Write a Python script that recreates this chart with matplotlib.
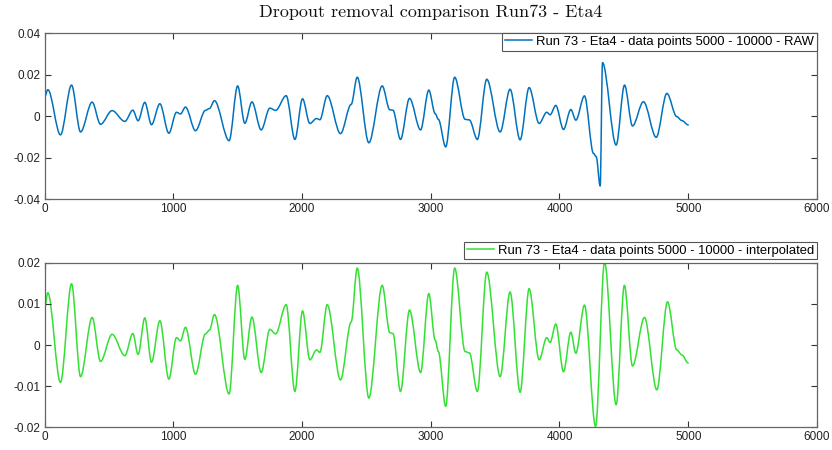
import matplotlib
matplotlib.use("Agg")
import matplotlib.pyplot as plt
from matplotlib.path import Path
from matplotlib.patches import PathPatch
from matplotlib.lines import Line2D

# ---- data (turning points of each trace) ----
# shared part of both traces (sample index, value)
common_x = [0, 26, 124, 210, 280, 370, 435, 525, 624, 686, 727, 779, 831, 896, 966,
            1025, 1056, 1095, 1173, 1250, 1281, 1320, 1434, 1500, 1556, 1611, 1683,
            1750, 1795, 1877, 1945, 2004, 2061, 2113, 2139, 2196, 2299, 2382, 2429,
            2519, 2623, 2682, 2706, 2765, 2835, 2921, 2985, 3034, 3059, 3116, 3186,
            3267, 3300, 3362, 3435, 3539, 3616, 3694, 3764, 3842, 3901, 3927, 3971,
            4031, 4088, 4127, 4194]
common_y = [0.0090, 0.0127, -0.0091, 0.0149, -0.0077, 0.0067, -0.0040, 0.0026, -0.0026,
            0.0028, -0.0023, 0.0066, -0.0042, 0.0059, -0.0083, 0.0018, 0.0010, 0.0043,
            -0.0071, 0.0027, 0.0036, 0.0074, -0.0119, 0.0145, -0.0035, 0.0068, -0.0067,
            0.0038, 0.0027, 0.0098, -0.0113, 0.0083, -0.0036, -0.0012, -0.0018, 0.0098,
            -0.0085, 0.0056, 0.0187, -0.0129, 0.0145, 0.0030, 0.0028, -0.0113, 0.0085,
            -0.0067, 0.0125, 0.0012, -0.0016, -0.0149, 0.0187, -0.0016, -0.0019, -0.0113,
            0.0177, -0.0077, 0.0129, -0.0115, 0.0137, -0.0036, 0.0018, 0.0006, 0.0051,
            -0.0065, 0.0031, -0.0020, 0.0097]

# raw trace after 4194 (contains the dropout)
raw_tail_x = [4264, 4285, 4316, 4334, 4440, 4505, 4567, 4652, 4751, 4834, 4911, 4950, 5000]
raw_tail_y = [-0.0180, -0.0196, -0.0337, 0.0257, -0.0140, 0.0149, -0.0048, 0.0069,
              -0.0103, 0.0109, -0.0003, -0.0022, -0.0043]

# interpolated trace after 4194
interp_tail_x = [4280, 4350, 4440, 4504, 4567, 4660, 4756, 4839, 4911, 4950, 5000]
interp_tail_y = [-0.0198, 0.0202, -0.0145, 0.0145, -0.0051, 0.0067, -0.0109, 0.0105,
                 -0.0012, -0.0024, -0.0044]

raw_x = common_x + raw_tail_x
raw_y = common_y + raw_tail_y
interp_x = common_x + interp_tail_x
interp_y = common_y + interp_tail_y

title = "Dropout removal comparison Run73 - Eta4"
raw_label = "Run 73 - Eta4 - data points 5000 - 10000 - RAW"
interp_label = "Run 73 - Eta4 - data points 5000 - 10000 - interpolated"
x_ticks = [0, 1000, 2000, 3000, 4000, 5000, 6000]
top_yticks = [-0.04, -0.02, 0, 0.02, 0.04]
top_ylabels = ["-0.04", "-0.02", "0", "0.02", "0.04"]
bot_yticks = [-0.02, -0.01, 0, 0.01, 0.02]
bot_ylabels = ["-0.02", "-0.01", "0", "0.01", "0.02"]

# ---- style ----
plt.rcParams['font.family'] = ['Liberation Sans', 'DejaVu Sans']
W, H = 832, 450
fig = plt.figure(figsize=(W / 100, H / 100), dpi=100)

def axes_px(l, t, r, b):
    return fig.add_axes([l / W, 1 - b / H, (r - l) / W, (b - t) / H])

ax1 = axes_px(44.5, 33, 817, 199)
ax2 = axes_px(44.5, 262.7, 817, 427.3)

spine_col = '#666666'
tick_fs = 8.5

def style(ax, yt, yl):
    ax.set_xlim(0, 6000)
    ax.set_xticks(x_ticks)
    ax.set_xticklabels([str(t) for t in x_ticks])
    ax.set_yticks(yt)
    ax.set_yticklabels(yl)
    ax.set_ylim(yt[0], yt[-1])
    for s in ax.spines.values():
        s.set_color(spine_col)
        s.set_linewidth(0.9)
    ax.tick_params(direction='in', length=4, width=0.8, color='#333333',
                   top=True, right=True, labelsize=tick_fs, labelcolor='#222222', pad=3)

def smooth_trace(ax, xs, ys, color, lw):
    """Draw the trace through its turning points, flat at each turning point."""
    verts = [(xs[0], ys[0])]
    codes = [Path.MOVETO]
    for i in range(1, len(xs)):
        x0, y0, x1, y1 = xs[i - 1], ys[i - 1], xs[i], ys[i]
        d = (x1 - x0) / 3.0
        verts += [(x0 + d, y0), (x1 - d, y1), (x1, y1)]
        codes += [Path.CURVE4] * 3
    patch = PathPatch(Path(verts, codes), facecolor='none', edgecolor=color,
                      lw=lw, transform=ax.transData, capstyle='round', joinstyle='round')
    ax.add_patch(patch)
    return Line2D([], [], color=color, lw=lw)

leg_kw = dict(fontsize=9.4, handlelength=2.1, handletextpad=0.3, borderpad=0.22,
              fancybox=False, framealpha=1, edgecolor='#555555', borderaxespad=0)

h1 = smooth_trace(ax1, raw_x, raw_y, '#0072BD', 1.1)
style(ax1, top_yticks, top_ylabels)
leg1 = ax1.legend([h1], [raw_label], loc='upper right', bbox_to_anchor=(1, 1), **leg_kw)
leg1.get_frame().set_linewidth(0.8)

h2 = smooth_trace(ax2, interp_x, interp_y, '#33e033', 1.1)
style(ax2, bot_yticks, bot_ylabels)
leg2 = ax2.legend([h2], [interp_label], loc='lower right', bbox_to_anchor=(1, 1.02), **leg_kw)
leg2.get_frame().set_linewidth(0.8)

fig.text(431 / W, 1 - 12 / H, title, ha='center', va='center',
         family='cmr10', fontsize=13, color='#111111')

fig.savefig('out.png', dpi=100)
